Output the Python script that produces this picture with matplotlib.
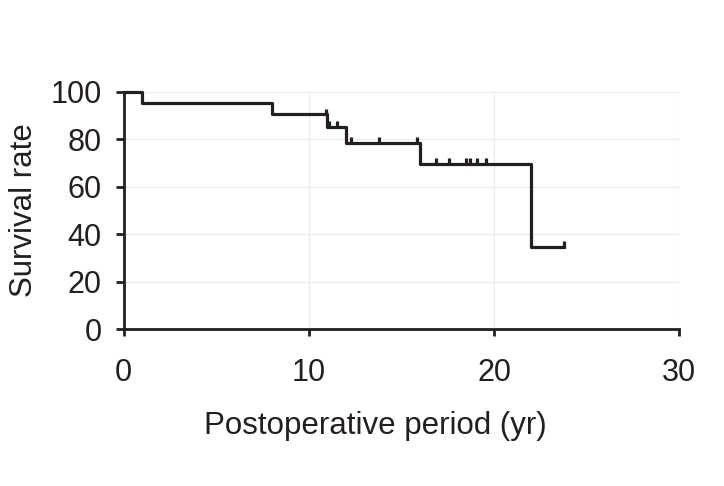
import numpy as np
import matplotlib
matplotlib.use("Agg")
import matplotlib.pyplot as plt

plt.rcParams['font.family'] = ['Liberation Sans', 'DejaVu Sans']

# Kaplan-Meier steps
step_times = [0, 1, 8, 11, 12, 16, 22]
step_surv = [100, 95.2, 90.5, 85.2, 78.4, 69.5, 34.7]
end_time = 23.8

# censored observations
cens_times = [10.9, 11.1, 11.5, 12.25, 13.8, 15.85, 16.86, 17.57, 18.5, 18.7, 19.1, 19.55, 23.8]
cens_surv = [90.5, 85.2, 85.2, 78.4, 78.4, 78.4, 69.5, 69.5, 69.5, 69.5, 69.5, 69.5, 34.7]

x_ticks = [0, 10, 20, 30]
y_ticks = [0, 20, 40, 60, 80, 100]

fig = plt.figure(figsize=(7.24, 4.86), dpi=100)
ax = fig.add_axes([0.171, 0.323, 0.767, 0.488])

xs = step_times + [end_time]
ys = step_surv + [step_surv[-1]]
ax.step(xs, ys, where='post', color='#231f20', lw=2.3, clip_on=False, zorder=3)
ax.vlines(cens_times, cens_surv, np.array(cens_surv) + 2.4, color='#231f20', lw=2.3, zorder=3)

ax.set_xlim(0, 30)
ax.set_ylim(0, 100)
ax.set_xticks(x_ticks)
ax.set_yticks(y_ticks)
ax.grid(True, color='#ebebeb', lw=0.8)
ax.set_axisbelow(True)

for s in ['top', 'right']:
    ax.spines[s].set_visible(False)
for s in ['left', 'bottom']:
    ax.spines[s].set_linewidth(2.0)
    ax.spines[s].set_color('#231f20')

ax.tick_params(axis='x', direction='out', length=5, width=2, pad=16, labelsize=22, colors='#231f20')
ax.tick_params(axis='y', direction='out', length=6, width=2, pad=10, labelsize=22, colors='#231f20')

ax.set_xlabel('Postoperative period (yr)', fontsize=22.5, labelpad=17, color='#231f20')
ax.xaxis.set_label_coords(0.453, -0.345)
ax.set_ylabel('Survival rate', fontsize=22.5, labelpad=8, color='#231f20')

fig.savefig('out.png', dpi=100)
